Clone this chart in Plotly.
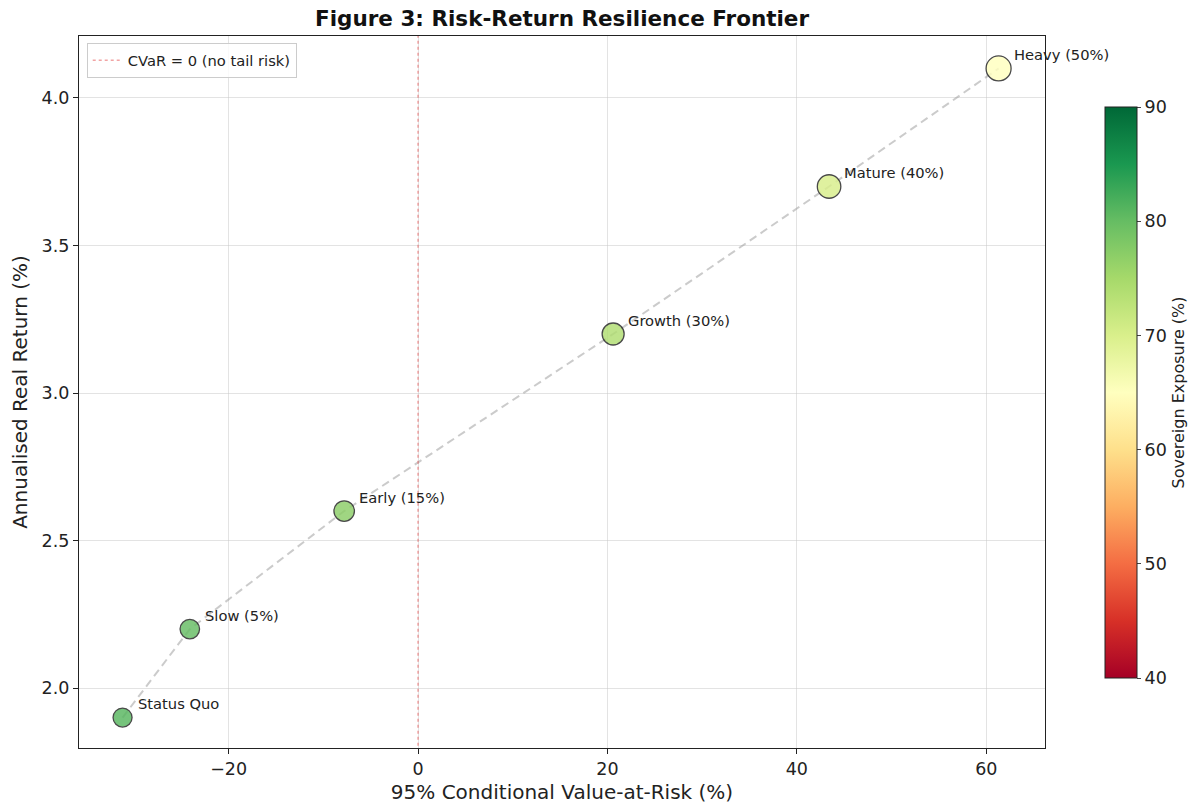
import plotly.graph_objects as go

strategies = ["Status Quo", "Slow (5%)", "Early (15%)", "Growth (30%)", "Mature (40%)", "Heavy (50%)"]
cvar = [-31.2, -24.1, -7.8, 20.6, 43.4, 61.3]
real_return = [1.90, 2.20, 2.60, 3.20, 3.70, 4.10]
sovereign_exposure = [81, 80, 77, 74, 70, 65]
marker_sizes = [19, 19.5, 20.5, 22, 23.5, 25]
cvar_zero_x = [0, 0]
cvar_zero_y = [1.5, 4.5]

FONT = "DejaVu Sans"

fig = go.Figure()

# frontier dashed line
fig.add_trace(go.Scatter(
    x=cvar, y=real_return, mode="lines",
    line=dict(color="rgba(160,160,160,0.55)", width=2, dash="8px,5px"),
    showlegend=False, hoverinfo="skip"))

# CVaR = 0 line
fig.add_trace(go.Scatter(
    x=cvar_zero_x, y=cvar_zero_y, mode="lines",
    line=dict(color="rgba(230,90,90,0.55)", width=1.5, dash="dot"),
    name="CVaR = 0 (no tail risk)", showlegend=True))

# scatter points
fig.add_trace(go.Scatter(
    x=cvar, y=real_return, mode="markers",
    marker=dict(
        size=marker_sizes, color=sovereign_exposure,
        colorscale="RdYlGn", cmin=40, cmax=90, opacity=0.82,
        line=dict(color="#222222", width=1.3),
        colorbar=dict(
            title=dict(text="Sovereign Exposure (%)", side="right",
                       font=dict(family=FONT, size=16, color="#222")),
            x=(1105 - 79) / 966, xanchor="left", xpad=0,
            y=1 - (392.5 - 36) / 712, yanchor="middle", ypad=0,
            len=571 / 712, lenmode="fraction",
            thickness=32, outlinewidth=1, outlinecolor="#222",
            tickvals=[40, 50, 60, 70, 80, 90], ticks="outside", ticklen=4,
            tickfont=dict(family=FONT, size=17.5, color="#222")),
    ),
    showlegend=False, hoverinfo="text", text=strategies))

for s, x, y in zip(strategies, cvar, real_return):
    fig.add_annotation(x=x, y=y, text=s, showarrow=False,
                       xanchor="left", yanchor="middle",
                       xshift=13, yshift=14,
                       font=dict(family=FONT, size=14.7, color="#222"))

axis_common = dict(
    showgrid=True, gridcolor="rgba(200,200,200,0.5)", gridwidth=1,
    zeroline=False, showline=True, linecolor="#222", linewidth=1.2,
    mirror=True, ticks="outside", ticklen=5, tickcolor="#222",
    tickfont=dict(family=FONT, size=17.5, color="#222"))

fig.update_layout(
    width=1199, height=808,
    margin=dict(l=79, r=154, t=36, b=60, autoexpand=False),
    paper_bgcolor="white", plot_bgcolor="white",
    title=dict(text="<b>Figure 3: Risk-Return Resilience Frontier</b>",
               x=562 / 1199, xanchor="center", y=1 - 18 / 808, yanchor="middle",
               font=dict(family=FONT, size=21.5, color="#111")),
    xaxis=dict(range=[-35.8, 66.2], tickvals=[-20, 0, 20, 40, 60],
               title=dict(text="95% Conditional Value-at-Risk (%)", standoff=6,
                          font=dict(family=FONT, size=20, color="#222")),
               **axis_common),
    yaxis=dict(range=[1.797, 4.21], tickvals=[2.0, 2.5, 3.0, 3.5, 4.0],
               tickformat=".1f",
               title=dict(text="Annualised Real Return (%)", standoff=8,
                          font=dict(family=FONT, size=20, color="#222")),
               **axis_common),
    legend=dict(x=0.008, y=0.99, xanchor="left", yanchor="top",
                bgcolor="rgba(255,255,255,0.8)", bordercolor="#ccc", borderwidth=1,
                font=dict(family=FONT, size=14.7, color="#222"),
                itemwidth=30),
    showlegend=True,
)

fig.write_html("out.html")
